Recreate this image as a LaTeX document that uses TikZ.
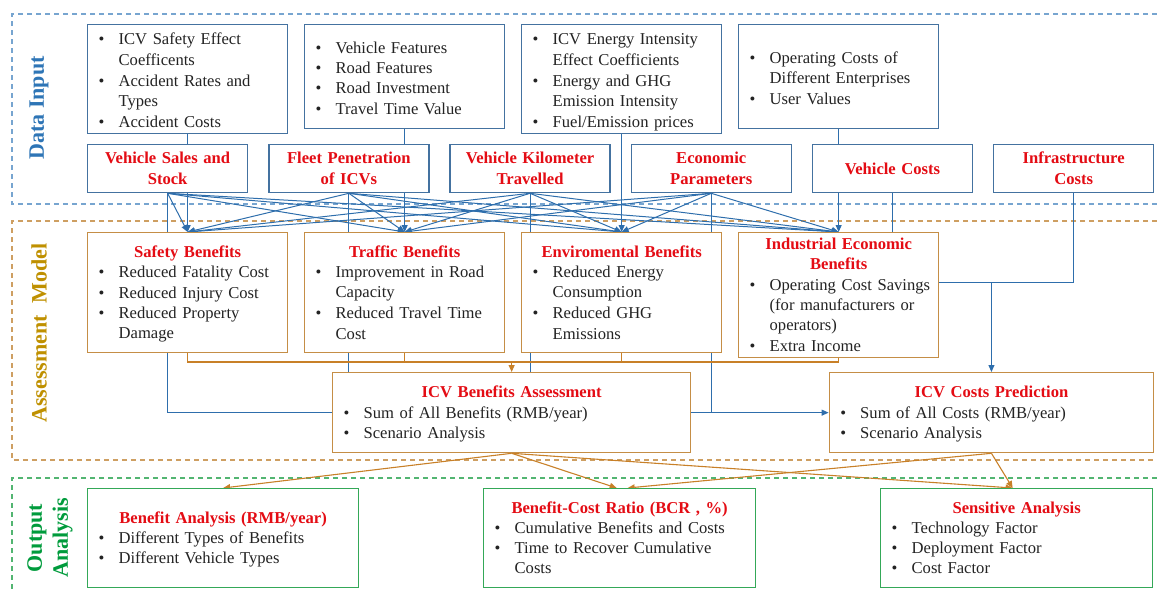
\documentclass[tikz,border=0pt]{standalone}
\usepackage{fontspec}
\setmainfont{Liberation Serif}
\usetikzlibrary{arrows.meta, calc, backgrounds}
\definecolor{ICVBlue}{RGB}{68,114,160}
\definecolor{ICVLine}{RGB}{46,110,172}
\definecolor{ICVOrange}{RGB}{197,142,70}
\definecolor{ICVOrnLine}{RGB}{200,128,40}
\definecolor{ICVGreen}{RGB}{52,168,88}
\definecolor{ICVRed}{RGB}{228,12,20}
\definecolor{ICVText}{RGB}{35,35,35}
\definecolor{ICVLabBlue}{RGB}{46,117,182}
\definecolor{ICVLabGold}{RGB}{191,144,0}
\definecolor{ICVLabGreen}{RGB}{0,155,60}
\lineskip=0pt
\lineskiplimit=0pt
\newcommand{\bitem}[1]{\par\noindent\makebox[20pt][l]{\textbullet}%
	\begin{tabular}[t]{@{}l@{}}#1\end{tabular}\par}
\newcommand{\btitle}[1]{{\centering\bfseries\color{ICVRed}\rule{0pt}{17pt}#1\par}}

\begin{document}
\begin{tikzpicture}[x=1pt, y=-1pt, font=\fontsize{16.6}{20.2}\selectfont,
	box/.style={rectangle, draw, line width=1.3pt, fill=white, anchor=north west,
		inner xsep=11pt, inner ysep=0pt, text=ICVText},
	bi/.style={box, draw=ICVBlue, align=left, text width=178pt, minimum height=104pt},
	bf/.style={box, draw=ICVBlue, align=center, text width=138pt, minimum height=48pt,
		font=\fontsize{16.6}{21}\selectfont\bfseries, text=ICVRed},
	bo/.style={box, draw=ICVOrange, align=left},
	bg/.style={box, draw=ICVGreen, align=left, minimum height=99pt},
	lab/.style={rotate=90, font=\fontsize{22}{26}\selectfont\bfseries},
	fa/.style={-{Triangle[length=7pt,width=6pt]}, line width=1pt, ICVLine},
	fl/.style={line width=1pt, ICVLine},
	oa/.style={-{Triangle[length=7pt,width=6pt]}, line width=1.1pt, ICVOrnLine},
	ol/.style={line width=1.1pt, ICVOrnLine},
	fr/.style={dash pattern=on 5pt off 4pt, line width=1.2pt}]
	\useasboundingbox (0,0) rectangle (1157,590);

	\node[lab, text=ICVLabBlue] (ldi) at (39,108) {Data Input};
	\node[lab, text=ICVLabGold] (lam) at (39,333) {Assessment\hspace{6pt} Model};
	\node[lab, text=ICVLabGreen, align=center] (loa) at (50,538) {Output\\Analysis};

	\node[bi] (dsaf) at (87,24) {\bitem{ICV Safety Effect\\Coefficents}%
		\bitem{Accident Rates and\\Types}\bitem{Accident Costs}};
	\node[bi] (dtra) at (304,24) {\bitem{Vehicle Features}\bitem{Road Features}%
		\bitem{Road Investment}\bitem{Travel Time Value}};
	\node[bi] (denv) at (521,24) {\bitem{ICV Energy Intensity\\Effect Coefficients}%
		\bitem{Energy and GHG\\Emission Intensity}\bitem{Fuel/Emission prices}};
	\node[bi] (dind) at (738,24) {\bitem{Operating Costs of\\Different Enterprises}%
		\bitem{User Values}};

	\node[bf] (sal) at (87,144)    {Vehicle Sales and\\Stock};
	\node[bf] (pen) at (268.2,144) {Fleet Penetration\\of ICVs};
	\node[bf] (vkt) at (449.4,144) {Vehicle Kilometer\\Travelled};
	\node[bf] (eco) at (630.6,144) {Economic\\Parameters};
	\node[bf] (vco) at (811.8,144) {Vehicle Costs};
	\node[bf] (inf) at (993,144)   {Infrastructure\\Costs};

	\node[bo, text width=178pt, minimum height=120pt] (saf) at (87,232)
		{\btitle{Safety Benefits}\bitem{Reduced Fatality Cost}\bitem{Reduced Injury Cost}%
		\bitem{Reduced Property\\Damage}};
	\node[bo, text width=178pt, minimum height=120pt] (tra) at (304,232)
		{\btitle{Traffic Benefits}\bitem{Improvement in Road\\Capacity}%
		\bitem{Reduced Travel Time\\Cost}};
	\node[bo, text width=178pt, minimum height=120pt] (env) at (521,232)
		{\btitle{Enviromental Benefits}\bitem{Reduced Energy\\Consumption}%
		\bitem{Reduced GHG\\Emissions}};
	\node[bo, text width=178pt, minimum height=120pt] (ind) at (738,232)
		{\btitle{Industrial Economic\\Benefits}\bitem{Operating Cost Savings\\
		(for manufacturers or\\operators)}\bitem{Extra Income}};

	\node[bo, text width=336pt, minimum height=80pt] (ba) at (332,372)
		{\btitle{ICV Benefits Assessment}\bitem{Sum of All Benefits (RMB/year)}%
		\bitem{Scenario Analysis}};
	\node[bo, text width=302.4pt, minimum height=80pt] (cp) at (828.6,372)
		{\btitle{ICV Costs Prediction}\bitem{Sum of All Costs (RMB/year)}%
		\bitem{Scenario Analysis}};

	\node[bg, text width=249pt] (ban) at (87,488)
		{\btitle{Benefit Analysis (RMB/year)}\bitem{Different Types of Benefits}%
		\bitem{Different Vehicle Types}};
	\node[bg, text width=250pt] (bcr) at (483,488)
		{\btitle{Benefit-Cost Ratio (BCR , \%)}\bitem{Cumulative Benefits and Costs}%
		\bitem{Time to Recover Cumulative\\Costs}};
	\node[bg, text width=250pt] (sen) at (880,488)
		{\btitle{Sensitive Analysis}\bitem{Technology Factor}\bitem{Deployment Factor}%
		\bitem{Cost Factor}};

	\begin{scope}[on background layer]
		\draw[fr, ICVLabBlue!65] (1157,14) -- (12,14) -- (12,204) -- (1157,204);
		\draw[fr, ICVOrange!85] (1157,221) -- (12,221) -- (12,460) -- (1157,460);
		\draw[fr, ICVGreen!85] (1157,478) -- (12,478) -- (12,590);

		\draw[fa] (dsaf.south) -- (saf.north);
		\draw[fa] (dtra.south) -- (tra.north);
		\draw[fa] (denv.south) -- (env.north);
		\draw[fa] (dind.south) -- (ind.north);

		\draw[fa] (sal.south) -- (saf.north);
		\draw[fa] (sal.south) -- (tra.north);
		\draw[fa] (sal.south) -- (env.north);
		\draw[fa] (sal.south) -- (ind.north);
		\draw[fa] (pen.south) -- (saf.north);
		\draw[fa] (pen.south) -- (tra.north);
		\draw[fa] (pen.south) -- (env.north);
		\draw[fa] (pen.south) -- (ind.north);
		\draw[fa] (vkt.south) -- (saf.north);
		\draw[fa] (vkt.south) -- (tra.north);
		\draw[fa] (vkt.south) -- (env.north);
		\draw[fa] (vkt.south) -- (ind.north);
		\draw[fa] (eco.south) -- (saf.north);
		\draw[fa] (eco.south) -- (tra.north);
		\draw[fa] (eco.south) -- (env.north);
		\draw[fa] (eco.south) -- (ind.north);

		\draw[fl] (sal.south) |- (ba.west);
		\draw[fl] (pen.south) -- (pen.south |- ba.north);
		\draw[fl] (vkt.south) -- (vkt.south |- ba.north);
		\draw[fl] (eco.south) |- (ba.east);
		\draw[fa] (ba.east) -- (cp.west);
		\draw[fl] (vco.south) -- (vco.south |- ind.north);
		\coordinate (jn) at (cp.north |- 0,282);
		\draw[fl] (inf.south) |- (ind.east |- jn);
		\draw[fa] (jn) -- (cp.north);

		\coordinate (ob) at (ba.north |- 0,362);
		\draw[ol] (saf.south) |- (ob) -| (ind.south);
		\draw[ol] (tra.south) -- (tra.south |- ob);
		\draw[ol] (env.south) -- (env.south |- ob);
		\draw[oa] (ob) -- (ba.north);

		\draw[oa] (ba.south) -- (ban.north);
		\draw[oa] (ba.south) -- ([xshift=-3pt]bcr.north);
		\draw[oa] (ba.south) -- ([xshift=-4pt]sen.north);
		\draw[oa] (cp.south) -- ([xshift=8pt]bcr.north);
		\draw[oa] (cp.south) -- ([xshift=-4pt]sen.north);
	\end{scope}
\end{tikzpicture}
\end{document}
